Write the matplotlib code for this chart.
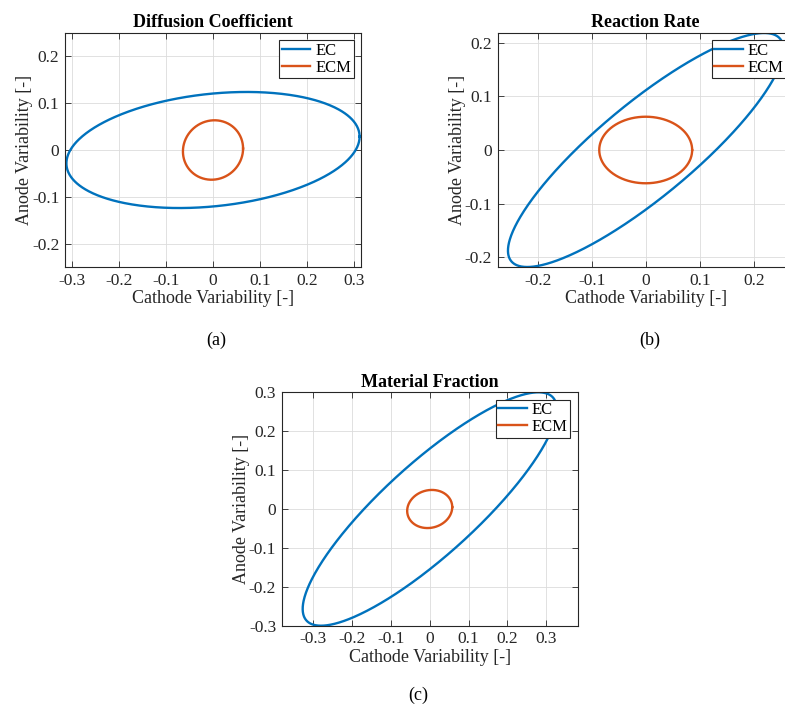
import numpy as np
import matplotlib
matplotlib.use("Agg")
import matplotlib.pyplot as plt

plt.rcParams['font.family'] = ['Liberation Serif', 'DejaVu Serif']
plt.rcParams['axes.unicode_minus'] = False

# ---- data: ellipse parameters (half extents and correlation) ----
titles = ["Diffusion Coefficient", "Reaction Rate", "Material Fraction"]
panel_labels = ["(a)", "(b)", "(c)"]
series_names = ["EC", "ECM"]

ec_sx = [0.312, 0.255, 0.327]
ec_sy = [0.123, 0.218, 0.300]
ec_rho = [0.23, 0.86, 0.856]

ecm_sx = [0.064, 0.086, 0.058]
ecm_sy = [0.063, 0.062, 0.049]
ecm_rho = [0.05, 0.0, 0.10]

xlims = [(-0.315, 0.315), (-0.274, 0.274), (-0.381, 0.381)]
ylims = [(-0.248, 0.248), (-0.218, 0.218), (-0.30, 0.30)]
xticks = [[-0.3, -0.2, -0.1, 0, 0.1, 0.2, 0.3],
          [-0.2, -0.1, 0, 0.1, 0.2],
          [-0.3, -0.2, -0.1, 0, 0.1, 0.2, 0.3]]
yticks = [[-0.2, -0.1, 0, 0.1, 0.2],
          [-0.2, -0.1, 0, 0.1, 0.2],
          [-0.3, -0.2, -0.1, 0, 0.1, 0.2, 0.3]]

blue = "#0072BD"
orange = "#D95319"

W, H = 785, 709
fig = plt.figure(figsize=(W / 100, H / 100), dpi=100)

# axes boxes in pixels: left, top, width, height
boxes = [(65, 33, 296, 234), (497.7, 33, 296, 234), (281.7, 392.3, 296, 233.4)]
label_pos = [(216, 340), (650, 340), (418, 695)]

t = np.linspace(0, 2 * np.pi, 721)


def ellipse(sx, sy, rho):
    x = sx * np.cos(t)
    y = sy * (rho * np.cos(t) + np.sqrt(1 - rho ** 2) * np.sin(t))
    return x, y


def fmt(v):
    return "0" if abs(v) < 1e-12 else ("%g" % v)


for i in range(3):
    l, tp, w, h = boxes[i]
    ax = fig.add_axes([l / W, (H - tp - h) / H, w / W, h / H])
    x1, y1 = ellipse(ec_sx[i], ec_sy[i], ec_rho[i])
    x2, y2 = ellipse(ecm_sx[i], ecm_sy[i], ecm_rho[i])
    ax.plot(x1, y1, color=blue, lw=1.7, label=series_names[0])
    ax.plot(x2, y2, color=orange, lw=1.7, label=series_names[1])
    ax.set_xlim(*xlims[i])
    ax.set_ylim(*ylims[i])
    ax.set_xticks(xticks[i])
    ax.set_yticks(yticks[i])
    ax.set_xticklabels([fmt(v) for v in xticks[i]])
    ax.set_yticklabels([fmt(v) for v in yticks[i]])
    ax.tick_params(direction='in', top=True, right=True, length=4,
                   width=0.6, colors='#262626', labelsize=12.5, pad=4)
    for s in ax.spines.values():
        s.set_color('#262626')
        s.set_linewidth(0.8)
    ax.grid(True, color='#dcdcdc', lw=0.6)
    ax.set_axisbelow(True)
    ax.set_title(titles[i], fontsize=13, fontweight='bold', pad=4)
    ax.set_xlabel("Cathode Variability [-]", fontsize=13, color='#262626', labelpad=1)
    ax.set_ylabel("Anode Variability [-]", fontsize=13, color='#262626', labelpad=-1)
    leg = ax.legend(loc='upper right', fontsize=12, frameon=True, fancybox=False,
                    borderaxespad=0.45, handlelength=1.7, handletextpad=0.3,
                    borderpad=0.15, labelspacing=0.05)
    leg.get_frame().set_edgecolor('#262626')
    leg.get_frame().set_linewidth(0.8)
    leg.get_frame().set_alpha(1)
    px, py = label_pos[i]
    fig.text(px / W, 1 - py / H, panel_labels[i], ha='center', va='center', fontsize=13)

fig.savefig("out.png", dpi=100)
